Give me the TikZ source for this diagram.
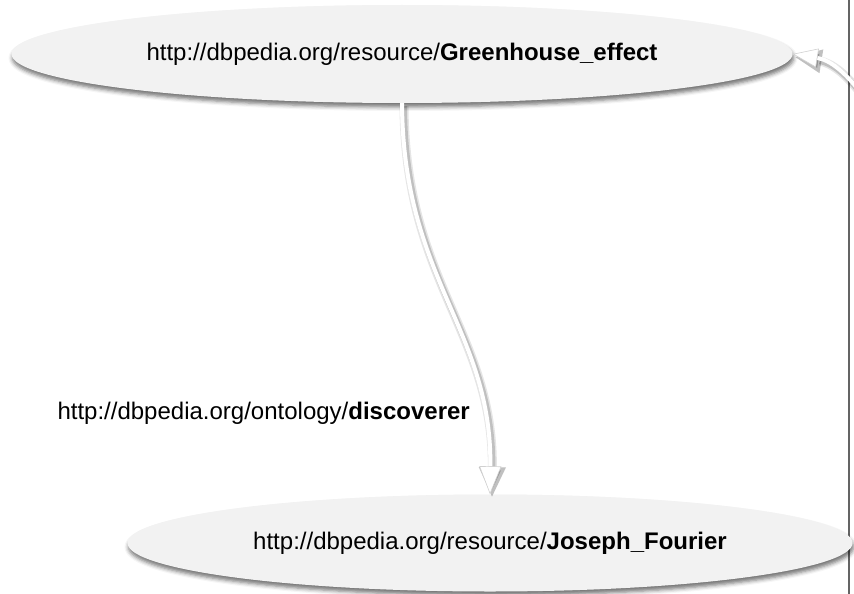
\documentclass[tikz,border=0pt]{standalone}
\usepackage{fontspec}
\setmainfont{Liberation Sans}
\usetikzlibrary{arrows.meta,shadows.blur,shapes.geometric}
\definecolor{ellfill}{RGB}{242,242,242}
\definecolor{rulegray}{RGB}{100,100,100}
\begin{document}
\begin{tikzpicture}[x=1pt,y=-1pt,
  ellipsebox/.style={ellipse, fill=ellfill, inner sep=0pt, draw=none,
    blur shadow={shadow xshift=1pt, shadow yshift=-4pt, shadow opacity=55, shadow blur radius=4pt},
    font=\fontsize{24}{28}\selectfont},
  lbl/.style={font=\fontsize{24}{28}\selectfont, inner sep=0pt},
  shadowA/.style={draw=black, opacity=0.10, line width=9pt, transform canvas={xshift=2pt,yshift=-3pt}},
  shadowB/.style={draw=black, opacity=0.16, line width=6pt, transform canvas={xshift=2pt,yshift=-3pt}},
  whiteline/.style={draw=white, line width=4pt},
  bigtip/.style={-{Triangle[width=22pt,length=28pt,fill=white,color=black!18,line width=0.6pt]}},
  smalltip/.style={-{Triangle[width=19pt,length=25pt,fill=white,color=black!18,line width=0.6pt]}},
  bigtipsh/.style={-{Triangle[width=25pt,length=30pt,fill=black,color=black]}},
  smalltipsh/.style={-{Triangle[width=22pt,length=27pt,fill=black,color=black]}},
  sideline/.style={draw=rulegray, line width=2.5pt}
]
\useasboundingbox (0,0) rectangle (854,594);
\coordinate (rtop) at (849,0);
\coordinate (rbot) at (849,594);
\draw[sideline] (rtop) -- (rbot);

\node[ellipsebox, minimum width=781pt, minimum height=98pt] (g) at (402,54)
  {http://dbpedia.org/resource/\textbf{Greenhouse\_effect}};
\node[ellipsebox, minimum width=725pt, minimum height=97pt] (j) at (490,543)
  {http://dbpedia.org/resource/\textbf{Joseph\_Fourier}};

% main connector: shadow then white line
\draw[shadowA, bigtipsh] (g.south) .. controls (403,280) and (492,330) .. (j.north);
\draw[shadowB, bigtipsh] (g.south) .. controls (403,280) and (492,330) .. (j.north);
\draw[whiteline, bigtip] (g.south) .. controls (403,280) and (492,330) .. (j.north);

\node[lbl, anchor=east] (lab) at (470,413) {http://dbpedia.org/ontology/\textbf{discoverer}};

% loop connector entering from the right
\coordinate (loopin) at (860,92);
\draw[shadowA, smalltipsh] (loopin) .. controls (845,72) and (830,60) .. (g.east);
\draw[shadowB, smalltipsh] (loopin) .. controls (845,72) and (830,60) .. (g.east);
\draw[whiteline, smalltip] (loopin) .. controls (845,72) and (830,60) .. (g.east);
\end{tikzpicture}
\end{document}
